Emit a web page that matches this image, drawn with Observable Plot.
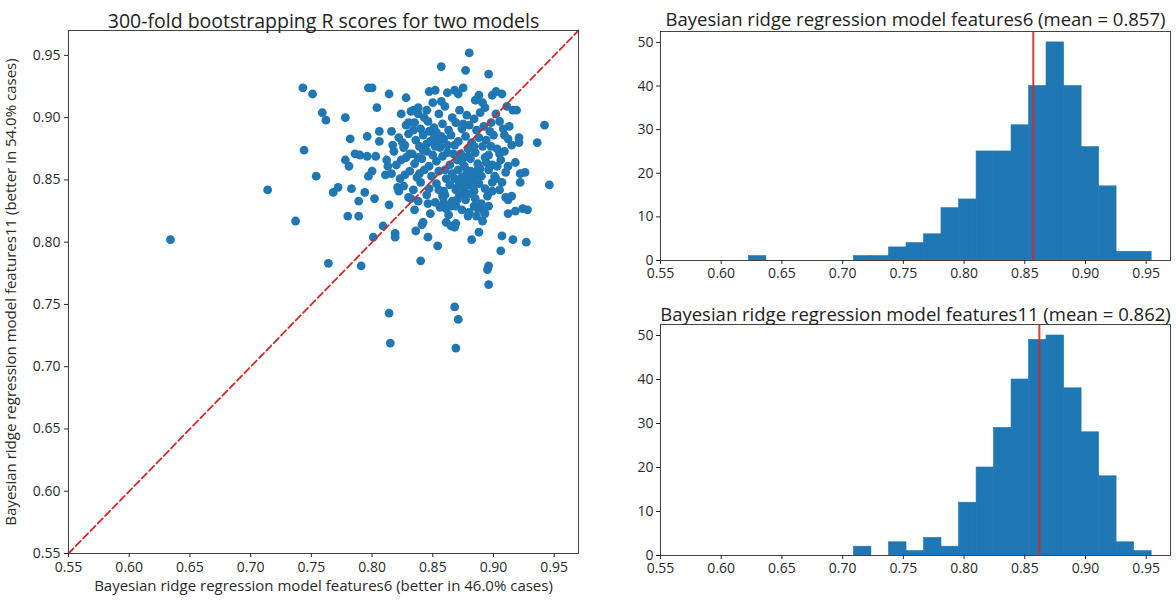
<!DOCTYPE html>
<html><head><meta charset="utf-8">
<script src="https://cdn.jsdelivr.net/npm/d3@7"></script>
<script src="https://cdn.jsdelivr.net/npm/@observablehq/plot@0.6"></script>
<style>
html,body{margin:0;padding:0;background:#fff}
#root{position:relative;width:1176px;height:600px;overflow:hidden;background:#fff}
.panel{position:absolute}
</style></head>
<body><div id="root">
<div id="scatter" class="panel" style="left:0;top:0"></div>
<div id="hist6" class="panel" style="left:600px;top:0"></div>
<div id="hist11" class="panel" style="left:600px;top:295px"></div>
</div>
<script>
// ---- data ----
const scatterTitle = "300-fold bootstrapping R scores for two models";
const xLabel = "Bayesian ridge regression model features6 (better in 46.0% cases)";
const yLabel = "Bayesian ridge regression model features11 (better in 54.0% cases)";
const title6 = "Bayesian ridge regression model features6 (mean = 0.857)";
const title11 = "Bayesian ridge regression model features11 (mean = 0.862)";
const scoreTicks = [0.55, 0.60, 0.65, 0.70, 0.75, 0.80, 0.85, 0.90, 0.95];
const countTicks = [0, 10, 20, 30, 40, 50];
const diagonal = [0.55, 0.97];
const mean6 = 0.857;
const mean11 = 0.862;

// [features6 score, features11 score]
const scores = [
 [0.634,0.802],[0.714,0.842],[0.737,0.817],[0.743,0.924],[0.751,0.919],[0.744,0.874],[0.759,0.904],[0.762,0.898],[0.754,0.853],[0.764,0.783],
 [0.768,0.840],[0.772,0.844],[0.778,0.900],[0.778,0.866],[0.781,0.861],[0.782,0.883],[0.783,0.843],[0.780,0.821],[0.789,0.821],[0.789,0.833],
 [0.791,0.781],[0.794,0.840],[0.786,0.871],[0.790,0.870],[0.796,0.885],[0.797,0.924],[0.800,0.924],[0.804,0.908],[0.801,0.804],[0.802,0.835],
 [0.806,0.889],[0.806,0.881],[0.797,0.853],[0.800,0.857],[0.803,0.869],[0.796,0.869],[0.809,0.813],[0.814,0.830],[0.814,0.743],[0.815,0.719],
 [0.814,0.919],[0.819,0.807],[0.819,0.804],[0.821,0.844],[0.822,0.841],[0.816,0.889],[0.817,0.878],[0.813,0.861],[0.811,0.854],[0.824,0.903],
 [0.828,0.916],[0.830,0.896],[0.824,0.866],[0.827,0.878],[0.827,0.854],[0.831,0.871],[0.832,0.835],[0.834,0.906],[0.836,0.809],[0.840,0.785],
 [0.841,0.814],[0.842,0.816],[0.846,0.831],[0.846,0.804],[0.854,0.797],[0.852,0.877],[0.839,0.855],[0.838,0.903],[0.845,0.906],[0.847,0.921],
 [0.852,0.922],[0.857,0.941],[0.857,0.913],[0.862,0.920],[0.868,0.922],[0.871,0.919],[0.875,0.924],[0.877,0.938],[0.880,0.952],[0.896,0.935],
 [0.899,0.918],[0.902,0.921],[0.907,0.919],[0.911,0.909],[0.916,0.906],[0.919,0.906],[0.888,0.918],[0.885,0.914],[0.891,0.912],[0.942,0.894],
 [0.936,0.880],[0.946,0.846],[0.927,0.800],[0.916,0.802],[0.907,0.805],[0.906,0.793],[0.896,0.781],[0.895,0.778],[0.896,0.766],[0.882,0.802],
 [0.868,0.748],[0.871,0.738],[0.869,0.715],[0.888,0.808],[0.924,0.827],[0.918,0.825],[0.922,0.855],[0.918,0.864],[0.922,0.848],[0.921,0.884],
 [0.921,0.880],[0.913,0.893],[0.905,0.897],[0.909,0.886],[0.915,0.837],[0.910,0.836],[0.907,0.848],[0.905,0.871],[0.903,0.861],[0.901,0.853],
 [0.898,0.877],[0.899,0.841],[0.896,0.829],[0.891,0.817],[0.893,0.823],[0.886,0.821],[0.887,0.827],[0.879,0.821],[0.861,0.816],[0.865,0.813],
 [0.869,0.815],[0.868,0.812],[0.859,0.832],[0.861,0.827],[0.869,0.829],
 [0.832,0.905],[0.838,0.908],[0.843,0.900],[0.850,0.912],[0.855,0.903],[0.860,0.909],[0.866,0.900],[0.872,0.906],[0.878,0.902],[0.884,0.899],
 [0.889,0.904],[0.893,0.908],[0.898,0.896],[0.902,0.903],
 [0.828,0.894],[0.835,0.896],[0.840,0.891],[0.846,0.897],[0.851,0.892],[0.858,0.895],[0.863,0.890],[0.869,0.896],[0.874,0.891],[0.880,0.894],
 [0.886,0.890],[0.892,0.893],[0.897,0.889],[0.908,0.891],
 [0.822,0.884],[0.830,0.887],[0.836,0.882],[0.842,0.886],[0.848,0.881],[0.853,0.888],[0.859,0.883],[0.865,0.886],[0.871,0.881],[0.877,0.885],
 [0.882,0.880],[0.888,0.884],[0.894,0.882],[0.900,0.886],[0.912,0.883],
 [0.818,0.873],[0.826,0.876],[0.833,0.871],[0.839,0.877],[0.845,0.873],[0.850,0.870],[0.856,0.876],[0.862,0.872],[0.868,0.878],[0.873,0.871],
 [0.879,0.875],[0.885,0.872],[0.891,0.877],[0.896,0.870],[0.903,0.875],[0.909,0.873],[0.915,0.878],
 [0.812,0.866],[0.820,0.862],[0.828,0.868],[0.835,0.863],[0.841,0.867],[0.847,0.861],[0.853,0.865],[0.858,0.869],[0.864,0.862],[0.870,0.866],
 [0.876,0.861],[0.881,0.867],[0.887,0.863],[0.893,0.868],[0.899,0.862],[0.906,0.866],[0.912,0.861],
 [0.816,0.855],[0.823,0.851],[0.831,0.857],[0.837,0.852],[0.843,0.858],[0.849,0.853],[0.855,0.857],[0.861,0.851],[0.866,0.855],[0.871,0.858],
 [0.874,0.852],[0.878,0.856],[0.882,0.850],[0.886,0.857],[0.890,0.853],[0.896,0.858],[0.902,0.851],[0.910,0.856],
 [0.826,0.845],[0.834,0.842],[0.840,0.848],[0.847,0.843],[0.853,0.847],[0.859,0.841],[0.864,0.846],[0.869,0.842],[0.873,0.848],[0.876,0.843],
 [0.880,0.846],[0.884,0.841],[0.888,0.847],[0.893,0.843],[0.899,0.848],[0.905,0.842],
 [0.830,0.836],[0.838,0.833],[0.845,0.838],[0.852,0.832],[0.858,0.837],[0.866,0.833],[0.872,0.838],[0.877,0.834],[0.881,0.839],[0.885,0.835],
 [0.890,0.831],[0.895,0.837],[0.912,0.834],
 [0.835,0.826],[0.848,0.823],[0.856,0.828],[0.863,0.822],[0.874,0.826],[0.880,0.824],[0.884,0.829],[0.892,0.825],
 [0.876,0.849],[0.879,0.853],[0.883,0.845],[0.871,0.845],[0.877,0.839],[0.881,0.857],[0.868,0.851],[0.885,0.853],[0.845,0.879],[0.851,0.884],
 [0.847,0.889],[0.855,0.880],[0.842,0.874],[0.857,0.885],[0.838,0.868],[0.862,0.878],[0.874,0.865],[0.879,0.869],[0.867,0.871],[0.884,0.877],
 [0.889,0.859],[0.894,0.864],[0.860,0.838],[0.855,0.842],[0.865,0.829],[0.870,0.834],[0.825,0.880],[0.834,0.890],
 [0.926,0.856],[0.928,0.826],[0.912,0.823],[0.875,0.895],[0.860,0.858]
];

// histogram bin edges (shared) and counts
const binEdges = [0.6228,0.6372,0.6516,0.6661,0.6805,0.6949,0.7093,0.7237,0.7382,0.7526,0.7670,0.7814,
                  0.7958,0.8103,0.8247,0.8391,0.8535,0.8679,0.8824,0.8968,0.9112,0.9256,0.9400,0.9545];
const counts6  = [1,0,0,0,0,0,1,1,3,4,6,12,14,25,25,31,40,50,40,26,17,2,2];
const counts11 = [0,0,0,0,0,0,2,0,3,1,4,2,12,20,29,40,49,50,38,28,18,3,1];

// ---- styles ----
const BLUE = "#1f77b4", RED = "#d62728";
const FONT = "'Open Sans', 'DejaVu Sans', sans-serif";
const baseStyle = {fontFamily: FONT, fontSize: "14px", color: "#2a2a2a", background: "white", overflow: "visible"};

// ---- scatter ----
const scatter = Plot.plot({
  width: 600, height: 600,
  marginLeft: 68, marginRight: 22, marginTop: 30, marginBottom: 47,
  x: {domain: [0.55, 0.97], label: null},
  y: {domain: [0.55, 0.97], label: null},
  style: baseStyle,
  marks: [
    Plot.dot(scores, {x: d => d[0], y: d => d[1], r: 4.4, fill: BLUE, stroke: "none"}),
    Plot.line(diagonal, {x: d => d, y: d => d, stroke: RED, strokeWidth: 1.8, strokeDasharray: "7,3.5"}),
    Plot.frame({stroke: "#444"}),
    Plot.axisX({ticks: scoreTicks, tickFormat: d3.format(".2f"), tickSize: 4, tickPadding: 5, label: null, fontSize: 14}),
    Plot.axisY({ticks: scoreTicks, tickFormat: d3.format(".2f"), tickSize: 4, tickPadding: 4, label: null, fontSize: 14}),
    Plot.text([scatterTitle], {text: d => d, frameAnchor: "top", dy: -16, fontSize: 19.5, fill: "#222"}),
    Plot.text([xLabel], {text: d => d, frameAnchor: "bottom", dy: 37, fontSize: 15, fill: "#2a2a2a"}),
    Plot.text([yLabel], {text: d => d, frameAnchor: "left", dx: -57, rotate: -90, textAnchor: "middle", fontSize: 15, fill: "#2a2a2a"})
  ]
});
document.getElementById("scatter").append(scatter);

// ---- histograms ----
function hist(counts, mean, title, h, mt, mb, tdy) {
  const bins = counts.map((c, i) => ({x1: binEdges[i], x2: binEdges[i + 1], c}));
  return Plot.plot({
    width: 576, height: h,
    marginLeft: 60, marginRight: 6, marginTop: mt, marginBottom: mb,
    x: {domain: [0.55, 0.97], label: null},
    y: {domain: [0, 52.5], label: null},
    style: baseStyle,
    marks: [
      Plot.rectY(bins.filter(b => b.c > 0), {x1: "x1", x2: "x2", y1: 0, y2: "c", fill: BLUE, stroke: BLUE, strokeWidth: 0.6, inset: 0}),
      Plot.ruleX([mean], {stroke: RED, strokeWidth: 2, strokeOpacity: 0.9}),
      Plot.frame({stroke: "#444"}),
      Plot.axisX({ticks: scoreTicks, tickFormat: d3.format(".2f"), tickSize: 4, tickPadding: 4, label: null, fontSize: 14}),
      Plot.axisY({ticks: countTicks, tickSize: 4, tickPadding: 3, label: null, fontSize: 14}),
      Plot.text([title], {text: d => d, frameAnchor: "top", dy: tdy, fontSize: 18.5, fill: "#222"})
    ]
  });
}
document.getElementById("hist6").append(hist(counts6, mean6, title6, 300, 31, 40, -19));
document.getElementById("hist11").append(hist(counts11, mean11, title11, 305, 29, 45, -17));
</script>
</body></html>
